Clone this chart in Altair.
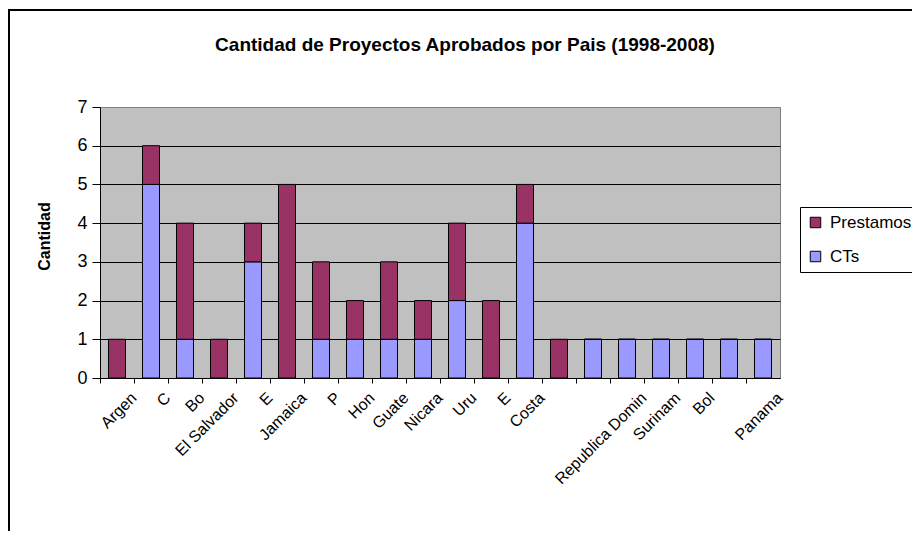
import json
import altair as alt
import pandas as pd

# ---- data ----
labels = ["Argen", "C", "Bo", "El Salvador", "E", "Jamaica", "P", "Hon", "Guate",
          "Nicara", "Uru", "E", "Costa", "", "", "Republica Domin", "Surinam",
          "Bol", "", "Panama"]
prestamos = [1, 1, 3, 1, 1, 5, 2, 1, 2, 1, 2, 2, 1, 1, 0, 0, 0, 0, 0, 0]
cts = [0, 5, 1, 0, 3, 0, 1, 1, 1, 1, 2, 0, 4, 0, 1, 1, 1, 1, 1, 1]
series = ["Prestamos", "CTs"]
colors = ["#993366", "#9999FF"]
y_ticks = [0, 1, 2, 3, 4, 5, 6, 7]
title_text = "Cantidad de Proyectos Aprobados por Pais (1998-2008)"
y_title = "Cantidad"

rows = []
for i in range(len(labels)):
    rows.append({"idx": i, "serie": "CTs", "orden": 0, "valor": cts[i]})
    rows.append({"idx": i, "serie": "Prestamos", "orden": 1, "valor": prestamos[i]})
df = pd.DataFrame(rows)

FONT = "Liberation Sans"

bars = alt.Chart(df).mark_bar(stroke="black", strokeWidth=1).encode(
    x=alt.X("idx:O",
            scale=alt.Scale(paddingInner=0.5, paddingOuter=0.25),
            axis=alt.Axis(title=None, labelExpr=f"{json.dumps(labels)}[datum.value]",
                          labelAngle=-45, labelAlign="right", labelBaseline="middle",
                          labelFontSize=16, labelColor="black", labelPadding=12,
                          labelOffset=17, bandPosition=-0.5, tickSize=5,
                          tickColor="black", domainColor="black", labelFont=FONT,
                          labelLimit=300)),
    y=alt.Y("valor:Q",
            stack="zero",
            scale=alt.Scale(domain=[0, 7], nice=False),
            axis=alt.Axis(values=y_ticks, title=y_title, titleFontSize=16,
                          titleFontWeight="bold", titleColor="black",
                          titleX=-56, titleY=129, titleAngle=-90,
                          titleBaseline="middle", titleAlign="center",
                          labelFontSize=18, labelColor="black", labelPadding=5,
                          tickSize=8, tickColor="black", domainColor="black",
                          grid=True,
                          gridColor=alt.condition("datum.value == 7",
                                                  alt.value("#808080"),
                                                  alt.value("black")),
                          gridOpacity=1, labelFont=FONT, titleFont=FONT)),
    color=alt.Color("serie:N",
                    scale=alt.Scale(domain=series, range=colors),
                    legend=alt.Legend(title=None, orient="none", legendX=700,
                                      legendY=100, padding=7, strokeColor="black",
                                      fillColor="white", symbolType="square",
                                      symbolSize=110, symbolStrokeColor="black",
                                      symbolStrokeWidth=1, symbolOpacity=1,
                                      labelFontSize=17, labelColor="black",
                                      labelFont=FONT, rowPadding=16,
                                      labelOffset=6)),
    order=alt.Order("orden:Q"),
)

frame = alt.Chart(alt.Data(values=[{}])).mark_rect(
    fill="transparent", stroke="black", strokeWidth=2
).encode(
    x=alt.value(-91), x2=alt.value(900), y=alt.value(-97), y2=alt.value(470)
)

title = alt.Chart(alt.Data(values=[{"t": title_text}])).mark_text(
    font=FONT, fontSize=19, fontWeight="bold", color="black",
    align="center", baseline="middle"
).encode(
    text="t:N", x=alt.value(365), y=alt.value(-62)
)

chart = alt.layer(bars, frame, title).properties(
    width=680, height=271,
    autosize=alt.AutoSizeParams(type="none"),
    padding={"left": 92, "top": 99, "right": 132, "bottom": 153},
    background="white",
).configure_view(
    fill="#C0C0C0", stroke="#808080", strokeWidth=1
)

chart.save("out.html", embed_options={"renderer": "svg", "actions": False})
